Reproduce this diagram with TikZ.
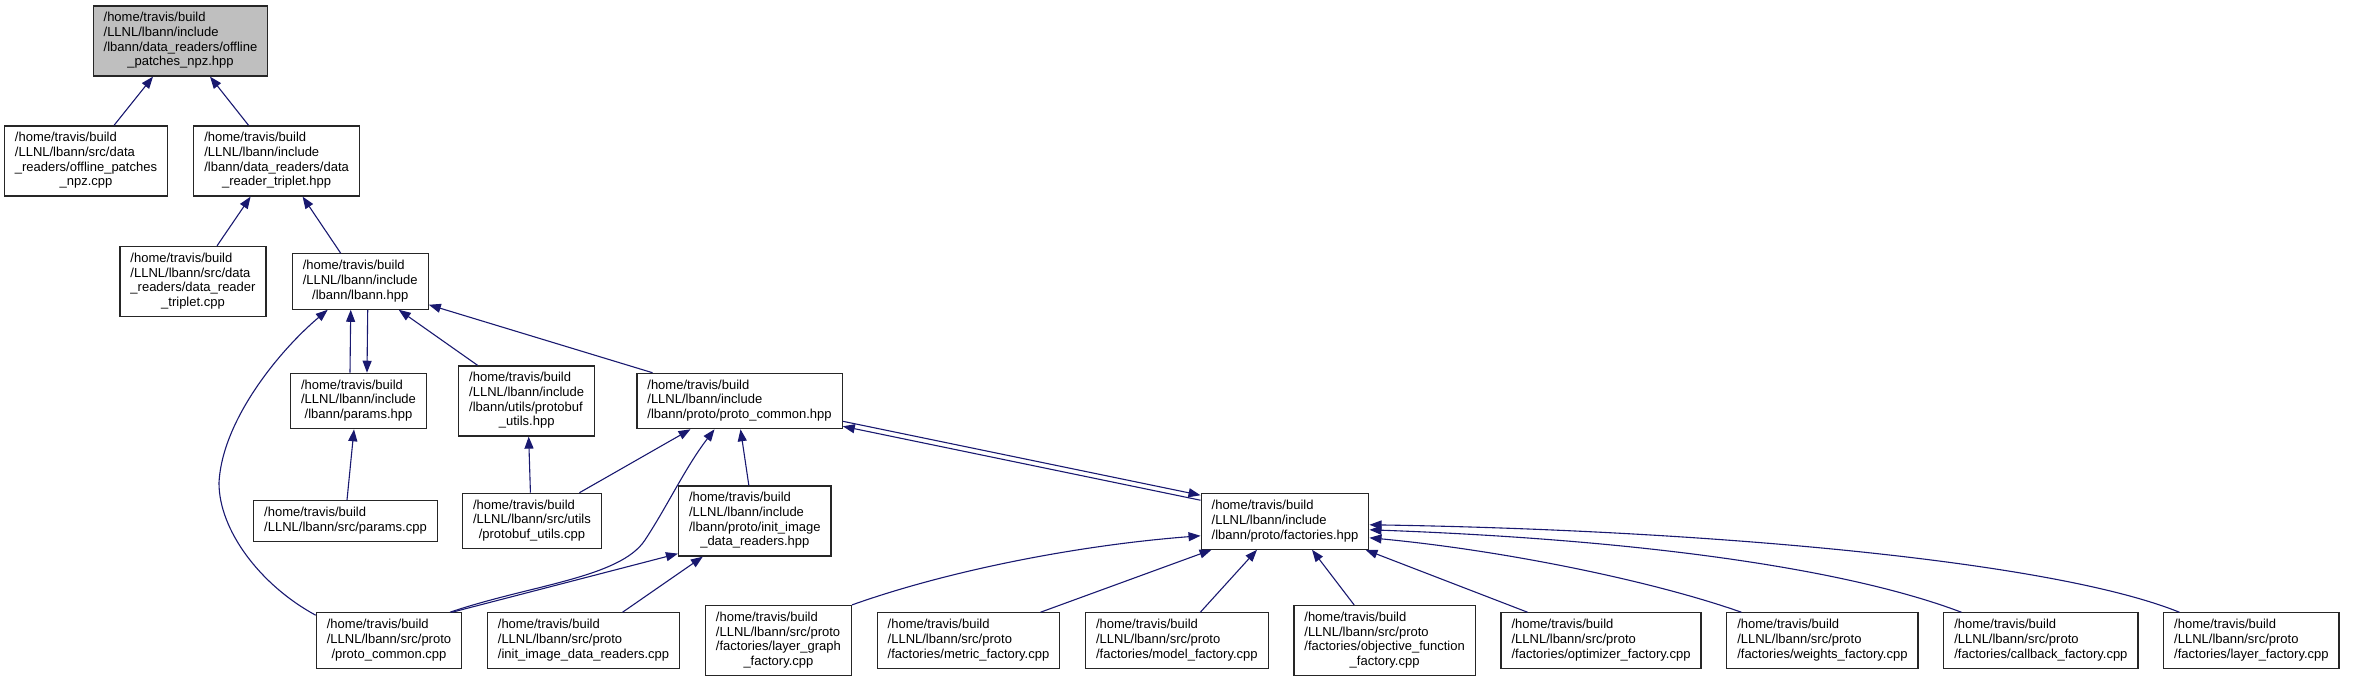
\documentclass[tikz,border=0pt]{standalone}
\usepackage{fontspec}
\setmainfont{Liberation Sans}
\usetikzlibrary{positioning, arrows.meta}
\definecolor{edgeblue}{HTML}{191970}
\definecolor{rootgray}{HTML}{BFBFBF}
\definecolor{boxline}{HTML}{262626}
\newcommand{\pathlabel}[2]{\begin{tabular}{@{}l@{}}#1\multicolumn{1}{@{}c@{}}{#2}\end{tabular}}

\begin{document}
\begin{tikzpicture}[
  x=1pt, y=-1pt,
  node distance=24.5pt,
  fileNode/.style={draw=boxline, line width=1.25pt, fill=white, inner xsep=10.5pt, inner ysep=5.6pt, font=\fontsize{13}{14.7}\selectfont},
  rootNode/.style={fileNode, fill=rootgray},
  arrow/.style={-{Triangle[length=12pt, width=9pt]}, line width=1.1pt, draw=edgeblue}
]
\useasboundingbox (0,0) rectangle (2368,683);

% Row 0: the header itself
\node[rootNode] (hdr) at (180.5,41) {\pathlabel{/home/travis/build\\/LLNL/lbann/include\\/lbann/data\_readers/offline\\}{\_patches\_npz.hpp}};

% Row 1
\node[fileNode] (npzCpp) at (86,161) {\pathlabel{/home/travis/build\\/LLNL/lbann/src/data\\\_readers/offline\_patches\\}{\_npz.cpp}};
\node[fileNode, right=25pt of npzCpp] (tripletHpp) {\pathlabel{/home/travis/build\\/LLNL/lbann/include\\/lbann/data\_readers/data\\}{\_reader\_triplet.hpp}};

% Row 2
\node[fileNode] (tripletCpp) at (193,281.5) {\pathlabel{/home/travis/build\\/LLNL/lbann/src/data\\\_readers/data\_reader\\}{\_triplet.cpp}};
\node[fileNode, right=25pt of tripletCpp] (lbannHpp) {\pathlabel{/home/travis/build\\/LLNL/lbann/include\\}{/lbann/lbann.hpp}};

% Row 3
\node[fileNode] (paramsHpp) at (358.5,401) {\pathlabel{/home/travis/build\\/LLNL/lbann/include\\}{/lbann/params.hpp}};
\node[fileNode, right=31pt of paramsHpp] (protobufHpp) {\pathlabel{/home/travis/build\\/LLNL/lbann/include\\/lbann/utils/protobuf\\}{\_utils.hpp}};
\node[fileNode, right=41pt of protobufHpp] (commonHpp) {\pathlabel{/home/travis/build\\/LLNL/lbann/include\\}{/lbann/proto/proto\_common.hpp}};

% Row 4
\node[fileNode] (paramsCpp) at (345.5,521) {\pathlabel{/home/travis/build\\}{/LLNL/lbann/src/params.cpp}};
\node[fileNode, right=24pt of paramsCpp] (protobufCpp) {\pathlabel{/home/travis/build\\/LLNL/lbann/src/utils\\}{/protobuf\_utils.cpp}};
\node[fileNode, right=76pt of protobufCpp] (initHpp) {\pathlabel{/home/travis/build\\/LLNL/lbann/include\\/lbann/proto/init\_image\\}{\_data\_readers.hpp}};
\node[fileNode] (factHpp) at (1285,521.5) {\pathlabel{/home/travis/build\\/LLNL/lbann/include\\}{/lbann/proto/factories.hpp}};

% Row 5
\node[fileNode] (commonCpp) at (389,640.5) {\pathlabel{/home/travis/build\\/LLNL/lbann/src/proto\\}{/proto\_common.cpp}};
\node[fileNode, right=of commonCpp] (initCpp) {\pathlabel{/home/travis/build\\/LLNL/lbann/src/proto\\}{/init\_image\_data\_readers.cpp}};
\node[fileNode, right=of initCpp] (graphCpp) {\pathlabel{/home/travis/build\\/LLNL/lbann/src/proto\\/factories/layer\_graph\\}{\_factory.cpp}};
\node[fileNode, right=of graphCpp] (metricCpp) {\pathlabel{/home/travis/build\\/LLNL/lbann/src/proto\\}{/factories/metric\_factory.cpp}};
\node[fileNode, right=of metricCpp] (modelCpp) {\pathlabel{/home/travis/build\\/LLNL/lbann/src/proto\\}{/factories/model\_factory.cpp}};
\node[fileNode, right=of modelCpp] (objectiveCpp) {\pathlabel{/home/travis/build\\/LLNL/lbann/src/proto\\/factories/objective\_function\\}{\_factory.cpp}};
\node[fileNode, right=of objectiveCpp] (optimizerCpp) {\pathlabel{/home/travis/build\\/LLNL/lbann/src/proto\\}{/factories/optimizer\_factory.cpp}};
\node[fileNode, right=of optimizerCpp] (weightsCpp) {\pathlabel{/home/travis/build\\/LLNL/lbann/src/proto\\}{/factories/weights\_factory.cpp}};
\node[fileNode, right=of weightsCpp] (callbackCpp) {\pathlabel{/home/travis/build\\/LLNL/lbann/src/proto\\}{/factories/callback\_factory.cpp}};
\node[fileNode, right=of callbackCpp] (layerCpp) {\pathlabel{/home/travis/build\\/LLNL/lbann/src/proto\\}{/factories/layer\_factory.cpp}};

% Include edges (tip at the included file)
\draw[arrow] ([xshift=28pt]npzCpp.north) -- ([xshift=-27.5pt]hdr.south);
\draw[arrow] ([xshift=-28pt]tripletHpp.north) -- ([xshift=29.5pt]hdr.south);
\draw[arrow] ([xshift=24pt]tripletCpp.north) -- ([xshift=-26pt]tripletHpp.south);
\draw[arrow] ([xshift=-19.5pt]lbannHpp.north) -- ([xshift=26pt]tripletHpp.south);

\draw[arrow] ([xshift=-8.5pt]paramsHpp.north) -- ([xshift=-9.5pt]lbannHpp.south);
\draw[arrow] ([xshift=7.5pt]lbannHpp.south) -- ([xshift=8.5pt]paramsHpp.north);
\draw[arrow] ([xshift=-49pt]protobufHpp.north) -- ([xshift=38.5pt]lbannHpp.south);
\draw[arrow] ([xshift=-87pt]commonHpp.north) -- ([yshift=5pt]lbannHpp.south east);
\draw[arrow] ([yshift=-3pt]commonCpp.north west) .. controls (260,585) and (219,530) .. (219,483) .. controls (222,420) and (280,350) .. ([xshift=-32.5pt]lbannHpp.south);

\draw[arrow] ([xshift=1.5pt]paramsCpp.north) -- ([xshift=-4.5pt]paramsHpp.south);
\draw[arrow] ([xshift=-1.5pt]protobufCpp.north) -- ([xshift=2pt]protobufHpp.south);
\draw[arrow] ([xshift=47.5pt]protobufCpp.north) -- ([xshift=-49pt]commonHpp.south);
\draw[arrow] ([xshift=61pt]commonCpp.north) .. controls (530,585) and (620,578) .. (645,540) .. controls (668,505) and (685,468) .. ([xshift=-25pt]commonHpp.south);
\draw[arrow] ([xshift=-6pt]initHpp.north) -- ([xshift=1pt]commonHpp.south);
\draw[arrow] ([xshift=63pt]commonCpp.north) -- ([yshift=3pt]initHpp.south west);
\draw[arrow] ([xshift=39pt]initCpp.north) -- ([xshift=-52pt]initHpp.south);

% proto_common.hpp <-> factories.hpp
\draw[arrow] ([yshift=8pt]commonHpp.south east) -- ([yshift=-2pt]factHpp.north west);
\draw[arrow] ([yshift=-7pt]factHpp.north west) -- ([yshift=3pt]commonHpp.south east);

% factories
\draw[arrow] (graphCpp.north east) .. controls (950,570) and (1080,545) .. ([yshift=14pt]factHpp.south west);
\draw[arrow] ([xshift=72pt]metricCpp.north) -- ([xshift=11pt]factHpp.south west);
\draw[arrow] ([xshift=23.5pt]modelCpp.north) -- ([xshift=-28pt]factHpp.south);
\draw[arrow] ([xshift=-30.5pt]objectiveCpp.north) -- ([xshift=27pt]factHpp.south);
\draw[arrow] ([xshift=-73.5pt]optimizerCpp.north) -- ([xshift=-4pt]factHpp.south east);
\draw[arrow] ([xshift=-81pt]weightsCpp.north) .. controls (1650,580) and (1500,550) .. ([yshift=12pt]factHpp.south east);
\draw[arrow] ([xshift=-79.5pt]callbackCpp.north) .. controls (1850,570) and (1650,540) .. ([yshift=20pt]factHpp.south east);
\draw[arrow] ([xshift=-72pt]layerCpp.north) .. controls (2050,560) and (1700,530) .. ([yshift=25pt]factHpp.south east);

\end{tikzpicture}
\end{document}
